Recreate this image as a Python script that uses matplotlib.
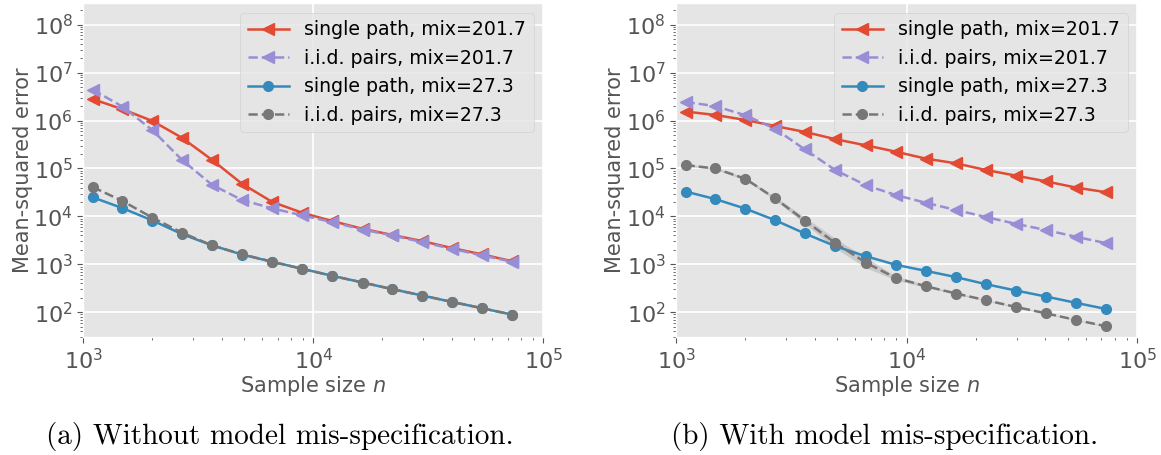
import numpy as np
import matplotlib
matplotlib.use("Agg")
import matplotlib.pyplot as plt

plt.style.use('ggplot')

# sample sizes (shared by both panels)
n_vals = [1100, 1480, 2000, 2680, 3620, 4900, 6640, 8960, 12100, 16400, 22100, 29800, 40200, 54300, 73300]

# (a) without model mis-specification
a_single_201 = [2.8e6, 1.73e6, 9.8e5, 4.4e5, 1.53e5, 4.8e4, 2.0e4, 1.19e4, 8.0e3, 5.5e3, 4.1e3, 3.05e3, 2.18e3, 1.61e3, 1.16e3]
a_iid_201 = [4.4e6, 1.96e6, 6.3e5, 1.53e5, 4.6e4, 2.2e4, 1.47e4, 1.05e4, 7.6e3, 5.3e3, 4.0e3, 2.9e3, 2.1e3, 1.53e3, 1.13e3]
a_single_27 = [2.5e4, 1.49e4, 8.2e3, 4.3e3, 2.5e3, 1.6e3, 1.13e3, 805, 575, 417, 303, 223, 164, 121, 89]
a_iid_27 = [4.1e4, 2.1e4, 9.4e3, 4.6e3, 2.5e3, 1.62e3, 1.13e3, 805, 575, 417, 303, 223, 164, 121, 89]

# (b) with model mis-specification
b_single_201 = [1.54e6, 1.31e6, 1.03e6, 7.7e5, 5.8e5, 4.1e5, 3.05e5, 2.25e5, 1.61e5, 1.28e5, 9.3e4, 7.1e4, 5.4e4, 4.0e4, 3.2e4]
b_iid_201 = [2.45e6, 2.0e6, 1.29e6, 6.8e5, 2.5e5, 9.3e4, 4.5e4, 2.8e4, 1.93e4, 1.36e4, 9.7e3, 7.0e3, 5.2e3, 3.76e3, 2.77e3]
b_single_27 = [3.3e4, 2.3e4, 1.45e4, 8.4e3, 4.4e3, 2.4e3, 1.48e3, 980, 731, 540, 385, 284, 213, 157, 117]
b_iid_27 = [1.18e5, 1.0e5, 6.1e4, 2.4e4, 8.2e3, 2.8e3, 1.09e3, 522, 350, 246, 178, 129, 95, 69, 51]
# shaded spread around the i.i.d. curve (b, mix=27.3)
b_iid_27_lo = [1.12e5, 0.95e5, 5.7e4, 2.2e4, 7.0e3, 2.2e3, 0.85e3, 470, 330, 238, 173, 126, 93, 67, 50]
b_iid_27_hi = [1.24e5, 1.05e5, 6.5e4, 2.6e4, 9.6e3, 3.5e3, 1.4e3, 575, 370, 254, 183, 132, 97, 71, 52]

labels = ['single path, mix=201.7', 'i.i.d. pairs, mix=201.7',
          'single path, mix=27.3', 'i.i.d. pairs, mix=27.3']
captions = ['(a) Without model mis-specification.', '(b) With model mis-specification.']

red, purple, blue, gray = '#E24A33', '#988ED5', '#348ABD', '#777777'


def draw(ax, s201, i201, s27, i27):
    ax.plot(n_vals, s201, '-', marker='<', color=red, lw=1.8, ms=9, label=labels[0])
    ax.plot(n_vals, i201, '--', marker='<', color=purple, lw=1.8, ms=9, label=labels[1])
    ax.plot(n_vals, s27, '-', marker='o', color=blue, lw=1.8, ms=7, label=labels[2])
    ax.plot(n_vals, i27, '--', marker='o', color=gray, lw=1.8, ms=7, label=labels[3])
    ax.set_xscale('log')
    ax.set_yscale('log')
    ax.set_xlim(1e3, 1e5)
    ax.set_ylim(30, 2.8e8)
    ax.set_xlabel('Sample size $n$', fontsize=15, color='#555555', labelpad=1)
    ax.set_ylabel('Mean-squared error', fontsize=15, color='#555555', labelpad=0.5)
    ax.tick_params(axis='both', which='major', labelsize=16, length=4)
    ax.tick_params(axis='both', which='minor', length=2)
    ax.grid(True, which='major', color='white', lw=1.2)
    ax.grid(False, which='minor')
    ax.legend(loc='upper right', fontsize=13.6, handlelength=2.2)


fig = plt.figure(figsize=(11.61, 4.55), dpi=100)
ax1 = fig.add_axes([0.0717, 0.2587, 0.3962, 0.734])
ax2 = fig.add_axes([0.5823, 0.2587, 0.3971, 0.734])

draw(ax1, a_single_201, a_iid_201, a_single_27, a_iid_27)
ax2.fill_between(n_vals, b_iid_27_lo, b_iid_27_hi, color=gray, alpha=0.25, lw=0)
draw(ax2, b_single_201, b_iid_201, b_single_27, b_iid_27)

fig.text(0.241, 0.04, captions[0], family='cmr10', fontsize=21, ha='center', va='center')
fig.text(0.762, 0.04, captions[1], family='cmr10', fontsize=21, ha='center', va='center')

fig.savefig('out.png', dpi=100)
